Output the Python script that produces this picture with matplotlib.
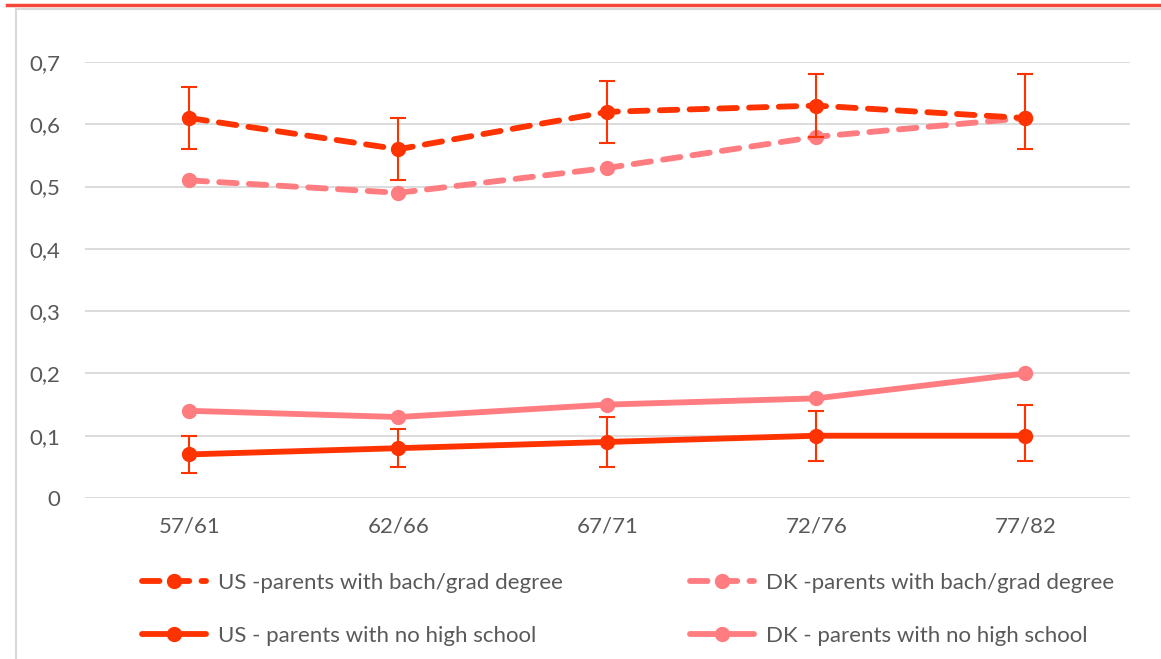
import numpy as np
import matplotlib.pyplot as plt
from matplotlib.lines import Line2D

plt.rcParams['font.family'] = ['Lato', 'DejaVu Sans']

cohorts = ['57/61', '62/66', '67/71', '72/76', '77/82']

us_bach = [0.61, 0.56, 0.62, 0.63, 0.61]
us_bach_lo = [0.56, 0.51, 0.57, 0.58, 0.56]
us_bach_hi = [0.66, 0.61, 0.67, 0.68, 0.68]

dk_bach = [0.51, 0.49, 0.53, 0.58, 0.61]

us_nohs = [0.07, 0.08, 0.09, 0.10, 0.10]
us_nohs_lo = [0.04, 0.05, 0.05, 0.06, 0.06]
us_nohs_hi = [0.10, 0.11, 0.13, 0.14, 0.15]

dk_nohs = [0.14, 0.13, 0.15, 0.16, 0.20]

yticks = [0, 0.1, 0.2, 0.3, 0.4, 0.5, 0.6, 0.7]
ytick_labels = ['0', '0,1', '0,2', '0,3', '0,4', '0,5', '0,6', '0,7']

us_color = '#ff3300'
dk_color = '#ff7c80'
text_color = '#595959'
grid_color = '#d9d9d9'

fig = plt.figure(figsize=(11.61, 6.59), dpi=100)
ax = fig.add_axes([0.0732, 0.2443, 0.9001, 0.6616])

x = np.arange(len(cohorts))

def err(vals, lo, hi):
    v = np.array(vals)
    return [v - np.array(lo), np.array(hi) - v]

lw = 4.2
ms = 10
dash = (3.0, 2.1)
fs = 16

l1, = ax.plot(x, us_bach, color=us_color, lw=lw, marker='o', ms=ms,
              dashes=dash, dash_capstyle='round', zorder=4)
ax.errorbar(x, us_bach, yerr=err(us_bach, us_bach_lo, us_bach_hi), fmt='none',
            ecolor=us_color, elinewidth=1.5, capsize=6, capthick=1.5, zorder=5)

l2, = ax.plot(x, dk_bach, color=dk_color, lw=lw, marker='o', ms=ms,
              dashes=dash, dash_capstyle='round', zorder=3)

l3, = ax.plot(x, us_nohs, color=us_color, lw=lw, marker='o', ms=ms,
              solid_capstyle='round', zorder=4)
ax.errorbar(x, us_nohs, yerr=err(us_nohs, us_nohs_lo, us_nohs_hi), fmt='none',
            ecolor=us_color, elinewidth=1.5, capsize=6, capthick=1.5, zorder=5)

l4, = ax.plot(x, dk_nohs, color=dk_color, lw=lw, marker='o', ms=ms,
              solid_capstyle='round', zorder=3)

ax.set_xlim(-0.5, len(cohorts) - 0.5)
ax.set_ylim(0, 0.7)
ax.set_xticks(x)
ax.set_xticklabels(cohorts)
ax.set_yticks(yticks)
ax.set_yticklabels(ytick_labels)
ax.tick_params(axis='both', length=0, labelsize=fs, labelcolor=text_color)
ax.tick_params(axis='y', pad=18)
ax.tick_params(axis='x', pad=13)
ax.grid(axis='y', color=grid_color, lw=1.3)
ax.set_axisbelow(True)
for s in ax.spines.values():
    s.set_visible(False)

leg = ax.legend([l1, l3, l2, l4],
                ['US -parents with bach/grad degree', 'US - parents with no high school',
                 'DK -parents with bach/grad degree', 'DK - parents with no high school'],
                ncol=2, loc='upper left', bbox_to_anchor=(0.035, -0.125),
                frameon=False, fontsize=fs, handlelength=2.9, handletextpad=0.54,
                columnspacing=5.7, labelspacing=1.5, labelcolor=text_color)

# chart frame and accent line at the top
fig.add_artist(Line2D([16 / 1161, 16 / 1161], [0, 1 - 9 / 659],
                      transform=fig.transFigure, color=grid_color, lw=1.5))
fig.add_artist(Line2D([16 / 1161, 1], [1 - 9 / 659, 1 - 9 / 659],
                      transform=fig.transFigure, color=grid_color, lw=1.5))
fig.add_artist(Line2D([7 / 1161, 1], [1 - 5 / 659, 1 - 5 / 659],
                      transform=fig.transFigure, color='#f4473a', lw=2.5))

fig.savefig('out.png', dpi=100)
